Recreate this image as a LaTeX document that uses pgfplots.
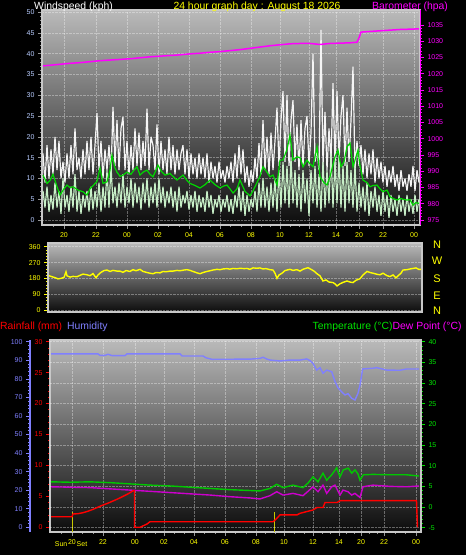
\documentclass[border=0pt]{standalone}
\usepackage{fontspec}
\setmainfont{Liberation Sans}
\usepackage{pgfplots}
\pgfplotsset{compat=1.18}
\definecolor{panelTop}{RGB}{186,186,186}
\definecolor{panelBot}{RGB}{12,12,12}
\definecolor{framec}{RGB}{200,200,200}
\definecolor{tickgray}{RGB}{150,150,150}
\definecolor{wsblue}{RGB}{185,205,255}
\definecolor{gust}{RGB}{245,245,245}
\definecolor{speed}{RGB}{200,240,200}
\definecolor{avg}{RGB}{0,215,0}
\definecolor{baro}{RGB}{255,0,255}
\definecolor{hum}{RGB}{128,128,255}
\definecolor{temp}{RGB}{0,200,0}
\definecolor{tlab}{RGB}{0,230,0}
\definecolor{dew}{RGB}{205,0,205}
\definecolor{rain}{RGB}{255,0,0}
\definecolor{yel}{RGB}{255,255,0}
\definecolor{sunc}{RGB}{200,200,0}
\pgfplotsset{
  base/.style={scale only axis, anchor=south west,
    /pgf/number format/assume math mode=true,
    /pgf/number format/1000 sep={},
    tick align=outside, major tick length=4pt, minor tick length=2.2pt,
    ticklabel style={font=\fontsize{7}{8}\selectfont},
    clip=true},
  bg/.style={axis background/.style={shade, top color=panelTop, bottom color=panelBot}},
  gridst/.style={grid style={white, opacity=0.35, densely dotted, line width=0.5pt}},
}
\begin{document}
\begin{tikzpicture}
\fill[black] (0pt,0pt) rectangle (466pt,555pt);
\path[use as bounding box] (0pt,0pt) rectangle (466pt,555pt);

% ---------------- top panel: wind speed ----------------
\begin{axis}[base, bg, gridst, at={(42pt,330pt)}, width=378pt, height=215pt,
  xmin=42, xmax=420, ymin=-1.2, ymax=50.5,
  axis line style={framec, line width=1.2pt},
  tick style={tickgray, line width=0.6pt},
  xtick pos=bottom, ytick pos=left,
  ytick={0,5,...,50}, minor y tick num=4,
  xtick={64,96,127,158,189,220,251,280,309,336,359,383,414},
  xticklabels={20,22,00,02,04,06,08,10,12,14,20,22,00},
  minor xtick={53,75,85,106,117,137,148,168,179,199,210,230,241,261,270,290,299,318,327,344,351,367,375,393,404},
  xmajorgrids, ymajorgrids,
  yticklabel style={text=wsblue},
  xticklabel style={text=yel},
]
\addplot[gust, line width=1.2pt, line join=bevel] coordinates {
(43,16)(45,9)(47,18)(49,10)(51,17)(53,11)(55,20)(57,12)(59,19)(61,10)(63,14)(65,9)(67,16)(69,10)(71,18)(73,11)(75,22)(77,12)(79,15)(81,10)(83,17)(85,11)(87,19)(89,12)(91,20)(93,11)(95,18)(97,25.7)(99,12)(101,19)(103,10)(105,17)(107,12)(109,18)(111,11)(113,27.2)(115,13)(117,24)(119,12)(121,22)(123,24.8)(125,12)(127,19)(129,11)(131,18)(133,12)(135,22)(137,13)(139,21)(141,12)(143,19)(145,13)(147,26.8)(149,12)(151,20)(153,18)(155,12)(157,23)(159,11)(161,19)(163,12)(165,17)(167,11)(169,20)(171,12)(173,18)(175,11)(177,17)(179,12)(181,16)(183,18)(185,11)(187,17)(189,10)(191,16)(193,11)(195,15)(197,10)(199,16)(201,11)(203,15)(205,10)(207,16)(209,9)(211,14)(213,10)(215,13)(217,9)(219,14)(221,10)(223,12)(225,9)(227,13)(229,10)(231,14)(233,9)(235,16)(237,10)(239,18)(241,11)(243,17)(245,9)(247,13)(249,8)(251,12)(253,9)(255,15)(257,10)(259,18.5)(261,11)(263,24)(265,12)(267,20)(269,11)(271,21)(273,12)(275,19)(277,27)(279,13)(281,24)(283,31)(285,14)(287,30)(289,13)(291,24)(293,28.8)(295,14)(297,23)(299,12)(301,24)(303,13)(305,22)(307,25)(309,13)(311,21)(313,40)(315,14)(317,17)(319,12)(321,45.7)(323,13)(325,26)(327,12)(329,22)(331,14)(333,32.9)(335,13)(337,31)(339,14)(341,25)(343,30)(345,13)(347,27)(349,14)(351,24)(353,36.9)(355,12)(357,19)(359,13)(361,18)(363,11)(365,17)(367,10)(369,16)(371,11)(373,17)(375,9)(377,15)(379,10)(381,14)(383,9)(385,13)(387,8)(389,12)(391,9)(393,13)(395,8)(397,11)(399,7)(401,12)(403,8)(405,10)(407,7)(409,11)(411,8)(413,13)(415,7)(417,12)(419,9)
};
\addplot[speed, line width=1.2pt, line join=bevel] coordinates {
(43,7)(45,3)(47,8)(49,2)(51,6)(53,2.5)(55,9)(57,3)(59,7)(61,1.5)(63,10)(65,3)(67,6)(69,2)(71,8)(73,3)(75,11)(77,2)(79,7)(81,1.5)(83,6)(85,3)(87,7)(89,2)(91,8)(93,2.5)(95,7)(97,3)(99,9)(101,2)(103,8)(105,3)(107,12)(109,3)(111,13)(113,4)(115,8)(117,3)(119,9)(121,4)(123,11)(125,3)(127,8)(129,4)(131,10)(133,3)(135,9)(137,4)(139,8)(141,2.5)(143,9)(145,4)(147,10)(149,3)(151,8)(153,4)(155,9)(157,3)(159,10)(161,4)(163,8)(165,3)(167,7)(169,4)(171,8)(173,3)(175,7)(177,2)(179,8)(181,3)(183,6)(185,4)(187,7)(189,2.5)(191,6)(193,3)(195,7)(197,2)(199,6)(201,3)(203,5.5)(205,2)(207,7)(209,3)(211,6)(213,1.5)(215,5)(217,3)(219,6)(221,2)(223,5)(225,3)(227,6)(229,2)(231,5)(233,1.5)(235,6)(237,3)(239,8)(241,2)(243,7)(245,1)(247,6)(249,2)(251,5)(253,3)(255,7)(257,2)(259,9)(261,3)(263,10)(265,3)(267,8)(269,2)(271,9)(273,3)(275,10)(277,2)(279,12)(281,3)(283,14)(285,4)(287,13)(289,3)(291,15)(293,4)(295,12)(297,3)(299,11)(301,2)(303,12)(305,4)(307,10)(309,1)(311,12)(313,4)(315,13)(317,3)(319,11)(321,2)(323,14)(325,3)(327,12)(329,4)(331,16)(333,3)(335,14)(337,4)(339,15)(341,3)(343,13)(345,2)(347,14)(349,4)(351,12)(353,3)(355,13)(357,2)(359,9)(361,3)(363,8)(365,2)(367,9)(369,1)(371,7)(373,3)(375,8)(377,2)(379,6)(381,1)(383,7)(385,2)(387,6)(389,0.5)(391,6)(393,2)(395,5)(397,1)(399,6)(401,2)(403,5)(405,1)(407,6)(409,2)(411,5)(413,1.5)(415,6)(417,2)(419,5)
};
\addplot[avg, line width=1.2pt] coordinates {
(43,10.8)(47,8.8)(50,9.5)(53,11)(57,8)(60,6)(64,7.5)(67,8.4)(70,7.8)(73,8)(78,7.2)(83,6.8)(87,6)(90,7.5)(94,8.5)(97,9.3)(100,12.5)(103,8.8)(107,9.2)(110,12)(112,15.6)(115,12.5)(117,11.5)(120,10.5)(123,10.8)(127,11.5)(131,11)(134,12)(137,12.8)(140,10.8)(143,11.5)(147,12)(150,11)(153,10.4)(156,12)(158,13.2)(161,11.8)(165,10.8)(168,11)(170,11.2)(173,10.5)(177,9.6)(180,10.2)(183,10.8)(187,9.5)(190,8.8)(195,8.3)(200,7.7)(205,8.5)(210,9.6)(215,8.5)(220,7.7)(224,8.2)(227,8.4)(230,7.5)(233,6.5)(237,7.5)(240,9.6)(245,6.9)(250,5.8)(253,7)(257,9)(260,10.5)(263,12.8)(267,11.5)(270,10.4)(273,10.8)(277,8.4)(280,14.4)(283,14.4)(287,17)(290,20.4)(293,14.4)(297,15.2)(300,15)(303,12.8)(307,14.4)(310,13.5)(313,12.8)(317,17.6)(320,10.4)(324,9)(327,8.4)(330,10.4)(335,15.2)(338,16.8)(341,12.8)(344,14)(347,17.6)(350,18.5)(353,12.8)(358,16.8)(360,13)(363,9.6)(367,9)(370,8)(373,8.3)(377,8.4)(380,7.5)(383,6.8)(387,7.2)(390,5.6)(393,5.2)(397,4.8)(400,5.2)(403,5)(407,4.8)(410,4.9)(413,3.6)(416,4.2)(419,4)
};
\end{axis}

\begin{axis}[base, at={(42pt,330pt)}, width=378pt, height=215pt,
  xmin=42, xmax=420, ymin=973.46, ymax=1039.6,
  axis x line=none, axis y line*=right,
  y axis line style={baro, line width=0.8pt},
  tick style={baro, line width=0.6pt},
  ytick={975,980,...,1035}, minor y tick num=4,
  yticklabel style={text=baro},
]
\addplot[baro, line width=1.5pt] coordinates {
(43,1022.4)(50,1022.6)(60,1022.9)(70,1023.2)(80,1023.4)(90,1023.7)(100,1024.0)(110,1024.2)(120,1024.4)(130,1024.6)(140,1024.9)(150,1025.2)(160,1025.4)(170,1025.6)(180,1025.8)(190,1026.1)(200,1026.3)(210,1026.6)(220,1026.8)(230,1027.1)(240,1027.4)(250,1027.8)(260,1028.2)(270,1028.6)(280,1028.9)(290,1029.2)(300,1029.3)(310,1029.3)(320,1029.0)(330,1029.3)(340,1029.4)(350,1029.5)(357,1029.7)(359,1031.0)(361,1032.8)(370,1033.0)(380,1033.2)(390,1033.4)(400,1033.6)(410,1033.7)(419,1033.8)
};
\end{axis}

% ---------------- middle panel: wind direction ----------------
\begin{axis}[base, bg, gridst, at={(48pt,243pt)}, width=374pt, height=69pt,
  xmin=48, xmax=422, ymin=-9.6, ymax=381,
  axis line style={framec, line width=1.2pt},
  tick style={yel, line width=0.6pt},
  ytick pos=left, xtick=\empty,
  ytick={0,90,...,360}, minor y tick num=4,
  ymajorgrids,
  yticklabel style={text=yel},
]
\addplot[yel, line width=1.4pt] coordinates {
(49,196)(52,190)(55,185)(58,178)(61,181)(64,186)(66,218)(67,195)(70,188)(73,192)(77,190)(80,198)(83,205)(87,201)(90,196)(93,208)(96,184)(98,200)(101,215)(104,225)(107,228)(110,220)(113,226)(117,222)(120,222)(123,215)(126,225)(130,220)(133,230)(136,224)(140,232)(143,220)(147,214)(150,210)(153,207)(156,214)(160,212)(163,220)(166,218)(170,222)(173,222)(177,226)(180,224)(184,228)(187,230)(190,226)(193,220)(197,212)(200,207)(203,214)(207,220)(210,224)(213,228)(217,232)(220,230)(223,234)(227,236)(230,233)(233,237)(237,235)(240,238)(244,236)(247,237)(250,232)(253,240)(257,238)(260,240)(263,234)(266,236)(270,230)(273,228)(275,210)(277,181)(279,200)(282,210)(285,225)(287,228)(290,232)(293,226)(297,230)(300,222)(303,232)(306,238)(308,241)(311,232)(314,222)(317,207)(320,195)(323,166)(326,172)(329,160)(333,157)(335,150)(337,138)(340,150)(343,158)(347,166)(350,160)(353,157)(356,170)(360,179)(363,200)(367,220)(370,214)(373,210)(377,204)(380,201)(383,210)(387,196)(390,191)(393,200)(396,183)(398,195)(401,210)(403,228)(407,230)(410,234)(413,237)(416,240)(419,231)(421,232)
};
\end{axis}

% ---------------- bottom panel ----------------
\begin{axis}[base, bg, at={(50pt,23pt)}, width=371pt, height=192pt,
  xmin=50, xmax=421, ymin=-0.76, ymax=30.27,
  axis line style={framec, line width=1.2pt},
  tick style={rain, line width=0.6pt},
  xtick pos=bottom, ytick pos=left,
  ytick={0,5,...,30}, minor y tick num=4,
  xtick={72,103,135,164,194,225,256,284,313,339,361,384,416},
  xticklabels={20,22,00,02,04,06,08,10,12,14,20,22,00},
  minor xtick={61,82,93,114,124,145,155,174,184,204,215,235,246,265,275,294,304,322,330,346,354,369,377,395,405},
  x tick style={tickgray},
  xmajorgrids, grid style={white, opacity=0.35, densely dotted, line width=0.5pt},
  yticklabel style={text=rain},
  xticklabel style={text=yel},
]
\addplot[sunc, line width=1pt] coordinates {(73,-0.76)(73,2.5)};
\addplot[sunc, line width=1pt] coordinates {(274,-0.76)(274,2.5)};
\end{axis}

\begin{axis}[base, at={(30pt,23pt)}, width=1pt, height=192pt,
  xmin=0, xmax=1, ymin=-2.5, ymax=100.9,
  axis x line=none, axis y line*=left,
  y axis line style={hum, line width=1.6pt},
  tick style={hum, line width=0.6pt},
  ytick={0,10,...,100}, minor y tick num=4,
  yticklabel style={text=hum},
]
\end{axis}

\begin{axis}[base, at={(50pt,23pt)}, width=371pt, height=192pt,
  xmin=50, xmax=421, ymin=-6.04, ymax=40.41,
  axis x line=none, axis y line*=right,
  y axis line style={framec, line width=1.2pt},
  tick style={tlab, line width=0.6pt},
  ytick={-5,0,...,40}, minor y tick num=4,
  ymajorgrids, grid style={white, opacity=0.35, densely dotted, line width=0.5pt},
  yticklabel style={text=tlab},
]
\addplot[temp, line width=1.4pt] coordinates {
(51,6.1)(70,6.0)(90,6.1)(110,5.9)(130,5.6)(150,5.3)(170,5.1)(190,4.8)(210,4.5)(230,4.2)(250,4.0)(260,3.9)(270,4.5)(276.7,5.5)(283,4.7)(293,5.3)(303,4.7)(308,5.8)(313,7.3)(318,6.1)(323,8.2)(326.7,6.5)(331.7,7.8)(336.7,9.5)(340,7.3)(343.3,9)(348.3,9.4)(351.7,8.2)(355,9.0)(358,8.0)(360,6.5)(363.3,7.8)(373,7.9)(390,7.8)(406.7,7.8)(419,7.5)
};
\addplot[dew, line width=1.4pt] coordinates {
(51,4.9)(70,4.8)(90,4.7)(110,4.4)(130,4.1)(150,3.8)(170,3.5)(190,3.2)(210,2.9)(230,2.5)(250,2.2)(260,1.95)(270,2.75)(276.7,3.7)(283,2.9)(293,3.3)(303,2.75)(308,3.8)(313,4.9)(318,3.7)(323,5.3)(326.7,3.3)(331.7,4.9)(335,5.3)(340,2.9)(343,4.1)(348,3.7)(351.7,2.9)(355,3.3)(360,2.3)(363,4.9)(373,5.3)(390,5.0)(406.7,4.9)(419,5.1)
};
\end{axis}

\begin{axis}[base, at={(50pt,23pt)}, width=371pt, height=192pt,
  xmin=50, xmax=421, ymin=-2.5, ymax=100.9, axis lines=none]
\addplot[hum, line width=1.4pt] coordinates {
(51,93.4)(98,93.4)(100,92.6)(105,92.6)(108,93.2)(112,92.5)(125,92.5)(127,93.4)(180,93.4)(182,92.3)(203,92.3)(206,91.3)(212,90.5)(250,90.6)(260,91.0)(263,91.6)(267,90.6)(270,90.1)(280,89.6)(290,90.1)(300,90.1)(306.7,90.7)(310,89.8)(313,88.3)(316.7,84.7)(320,86)(323,83)(326.7,84.7)(331.7,83.8)(335,78.5)(338,75.2)(341.7,73)(345,71.3)(348,72)(351.7,69.5)(355,68.6)(358,72.2)(360,76.7)(362.7,85.3)(373,85.7)(376.7,86)(386.7,84.7)(400,84.6)(406.7,85.3)(419,85.3)
};
\end{axis}
\begin{axis}[base, at={(50pt,23pt)}, width=371pt, height=192pt,
  xmin=50, xmax=421, ymin=-0.76, ymax=30.27, axis lines=none]
\addplot[rain, line width=1.4pt] coordinates {
(51,1.7)(72,1.7)(73,2.15)(78,2.2)(83,2.36)(88,2.6)(93,2.9)(98,3.25)(103,3.6)(108,3.9)(113,4.25)(118,4.6)(123,5.0)(128,5.4)(133,5.9)(134.5,5.9)(134.5,0)(140,0)(144,0.3)(147,0.53)(150,0.9)(273,0.9)(276,1.3)(280,2.0)(297,2.0)(300,2.26)(313,2.8)(317,3.2)(323,3.2)(325,4.0)(337,4.0)(340,4.3)(416.5,4.3)(417.5,0)
};
\end{axis}

% ---------------- texts ----------------
\begin{scope}[every node/.style={inner sep=0pt, font=\fontsize{10.4}{12}\selectfont, anchor=base west}]
\node[text=white] at (34pt,545.5pt) {Windspeed (kph)};
\node[text=yel, anchor=base] at (257pt,545.5pt) {24 hour graph day : August 18 2026};
\node[text=baro] at (372pt,545.5pt) {Barometer (hpa)};
\node[text=rain] at (0pt,225pt) {Rainfall (mm)};
\node[text=hum] at (67pt,225pt) {Humidity};
\node[text=tlab] at (312.5pt,225pt) {Temperature (°C)};
\node[text=baro] at (392.5pt,225pt) {Dew Point (°C)};
\end{scope}
\begin{scope}[every node/.style={inner sep=0pt, font=\fontsize{11}{12}\selectfont, text=yel, anchor=center}]
\node at (437pt,310.5pt) {N};
\node at (437pt,293.8pt) {W};
\node at (437pt,276.2pt) {S};
\node at (437pt,259.5pt) {E};
\node at (437pt,244.2pt) {N};
\end{scope}
\begin{scope}[every node/.style={inner sep=0pt, font=\fontsize{7}{8}\selectfont, text=yel}]
\node[anchor=base east] at (67.5pt,9pt) {Sun};
\node[anchor=base west] at (76.5pt,9pt) {Set};
\end{scope}
\end{tikzpicture}
\end{document}
